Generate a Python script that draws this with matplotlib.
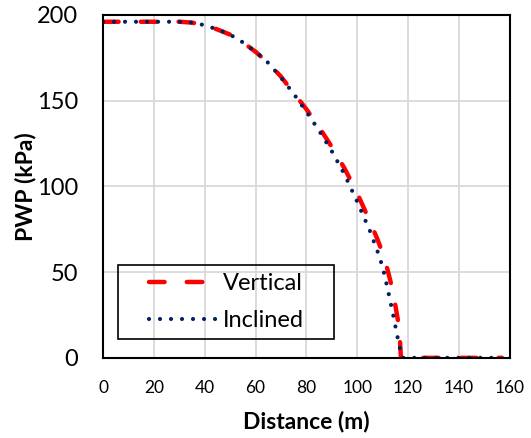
import matplotlib.pyplot as plt
from matplotlib.patches import Rectangle

# distance (m) and pore water pressure (kPa)
x_vertical = [0, 10, 20, 30, 35, 40, 45, 50, 55, 60, 65, 70, 75, 80, 85, 90, 95, 100,
              105, 108, 110, 112, 114, 116, 116.8, 117.2, 120, 130, 140, 150, 157]
pwp_vertical = [196, 196, 196, 196, 195.5, 194, 191.5, 188.5, 184, 178.5, 172, 164, 154.5,
                145, 134.5, 123, 110.5, 96, 79.5, 69, 61, 51, 39, 22, 10, 0, 0, 0, 0, 0, 0]

x_inclined = [0, 10, 20, 30, 35, 40, 45, 50, 55, 60, 65, 70, 75, 80, 85, 90, 95, 100,
              105, 108, 110, 112, 114, 116, 117.3, 117.8, 120, 130, 140, 150, 157]
pwp_inclined = [196, 196, 196, 196, 195.5, 194, 191.5, 188.5, 184, 178.5, 172, 163.5, 154,
                143.5, 132.5, 120.5, 107, 91, 74, 62, 53, 40, 26, 11, 2, 0, 0, 0, 0, 0, 0]

plt.rcParams['font.family'] = ['Lato', 'DejaVu Sans']

fig, ax = plt.subplots(figsize=(5.31, 4.38), dpi=100)
fig.subplots_adjust(left=0.194, right=0.96, top=0.966, bottom=0.183)

ax.plot(x_vertical, pwp_vertical, color='#ff0000', lw=3.2, dashes=(3.5, 5.0),
        dash_capstyle='round', label='Vertical')
ax.plot(x_inclined, pwp_inclined, color='#002060', lw=3.0, dashes=(0.001, 2.64),
        dash_capstyle='round', label='Inclined')

ax.set_xlim(0, 160)
ax.set_ylim(0, 200)
ax.set_xticks(range(0, 161, 20))
ax.set_yticks(range(0, 201, 50))
ax.grid(color='#d9d9d9', lw=1.3)
ax.set_axisbelow(True)
for s in ax.spines.values():
    s.set_linewidth(1.5)
    s.set_color('black')
ax.tick_params(axis='x', labelsize=12.5, length=0, pad=16)
ax.tick_params(axis='y', labelsize=17, length=0, pad=18)

ax.set_xlabel('Distance (m)', fontsize=16.5, fontweight='bold')
ax.set_ylabel('PWP (kPa)', fontsize=16.5, fontweight='bold')
ax.xaxis.set_label_coords(0.5, -0.154)
ax.yaxis.set_label_coords(-0.165, 0.5)

leg = ax.legend(loc='center left', bbox_to_anchor=(0.083, 0.163), fontsize=17,
                frameon=False, borderpad=0, handlelength=2.85, handletextpad=0.3,
                labelspacing=0.68)
# legend frame (transparent, wider than the entries as in the original)
ax.add_patch(Rectangle((0.037, 0.055), 0.531, 0.216, transform=ax.transAxes,
                       fill=False, edgecolor='black', lw=1.2, zorder=5))

plt.savefig('out.png', dpi=100)
